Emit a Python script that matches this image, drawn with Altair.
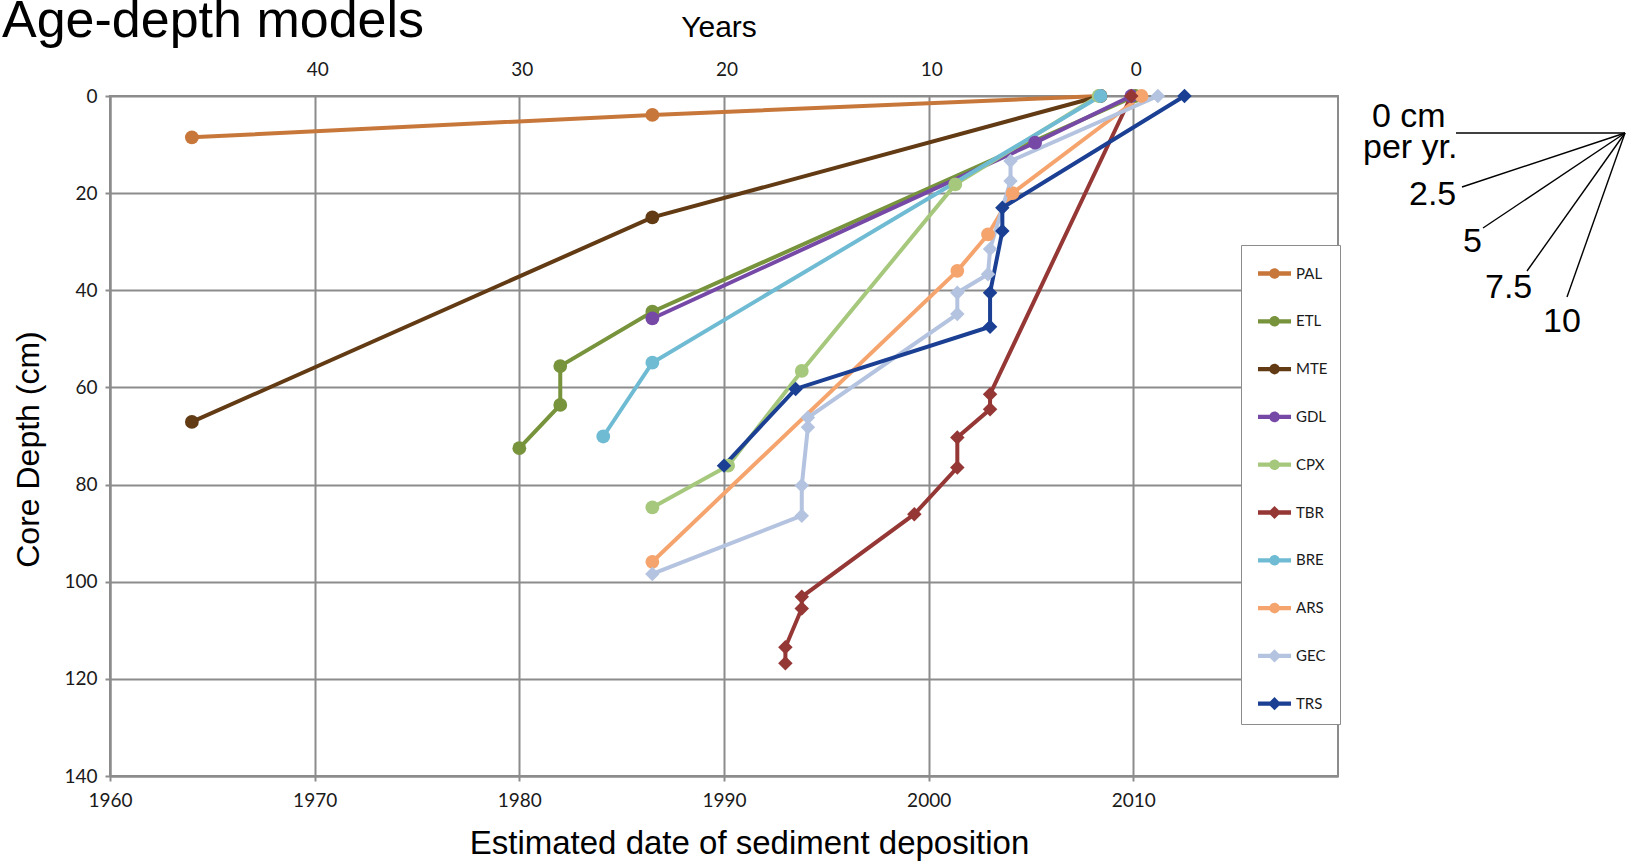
import altair as alt
import pandas as pd

# ---------------- data ----------------
series = ["PAL", "ETL", "MTE", "GDL", "CPX", "TBR", "BRE", "ARS", "GEC", "TRS"]
colors = ["#C8773A", "#77933C", "#623B14", "#7649A6", "#A6C87C",
          "#953735", "#6FBBD3", "#F5A46E", "#B4C3DF", "#1A3F93"]
diamond_series = ["TBR", "GEC", "TRS"]

pal_date = [2008.4, 1986.5, 1964.0]
pal_depth = [0, 3.9, 8.5]
etl_date = [2010.1, 1986.5, 1982.0, 1982.0, 1980.0]
etl_depth = [0, 44.4, 55.6, 63.6, 72.5]
mte_date = [2008.4, 1986.5, 1964.0]
mte_depth = [0, 25.0, 67.1]
gdl_date = [2009.9, 2005.2, 1986.5]
gdl_depth = [0, 9.6, 45.8]
cpx_date = [2008.3, 2001.3, 1993.8, 1990.2, 1986.5]
cpx_depth = [0, 18.2, 56.6, 76.1, 84.7]
tbr_date = [2009.9, 2003.0, 2003.0, 2001.4, 2001.4, 1999.3, 1993.8, 1993.8, 1993.0, 1993.0]
tbr_depth = [0, 61.4, 64.5, 70.3, 76.5, 86.1, 103.1, 105.5, 113.5, 116.8]
bre_date = [2008.4, 1986.5, 1984.1]
bre_depth = [0, 54.9, 70.1]
ars_date = [2010.4, 2004.1, 2002.9, 2001.4, 1986.5]
ars_depth = [0, 20.0, 28.5, 36.0, 95.9]
gec_date = [2011.2, 2004.0, 2004.0, 2003.0, 2002.9, 2001.4, 2001.4, 1994.1, 1994.1, 1993.8, 1993.8, 1986.5]
gec_depth = [0, 13.4, 17.5, 31.5, 36.7, 40.5, 44.9, 66.2, 68.2, 80.2, 86.4, 98.4]
trs_date = [2012.5, 2003.6, 2003.6, 2003.0, 2003.0, 1993.5, 1990.0]
trs_depth = [0, 23.0, 27.8, 40.5, 47.5, 60.3, 76.1]

x_ticks = [1960, 1970, 1980, 1990, 2000, 2010]
y_ticks = [0, 20, 40, 60, 80, 100, 120, 140]
years_ago = [40, 30, 20, 10, 0]
reference_year = 2010

rate_labels = ["2.5", "5", "7.5", "10"]

all_dates = [pal_date, etl_date, mte_date, gdl_date, cpx_date, tbr_date, bre_date, ars_date, gec_date, trs_date]
all_depths = [pal_depth, etl_depth, mte_depth, gdl_depth, cpx_depth, tbr_depth, bre_depth, ars_depth, gec_depth, trs_depth]

rows = []
for s, ds, zs in zip(series, all_dates, all_depths):
    for d, z in zip(ds, zs):
        rows.append({"series": s, "date": d, "depth": z})
df = pd.DataFrame(rows)

# ---------------- styling ----------------
GRID = "#8C8C8C"
W, H = 1228, 680
PAD = {"left": 110, "top": 96, "right": 289, "bottom": 87}
LBL_FONT = "Lato"
REG = "Liberation Sans"

x_scale = alt.Scale(domain=[1960, 2020], nice=False, zero=False)
y_scale = alt.Scale(domain=[0, 140], reverse=True, nice=False, zero=False)
color_scale = alt.Scale(domain=series, range=colors)

x_axis = alt.Axis(values=x_ticks, grid=True, gridColor=GRID, gridWidth=2,
                  domainColor=GRID, domainWidth=2, tickColor=GRID, tickWidth=2, tickSize=5,
                  labelFont=LBL_FONT, labelFontSize=19, labelColor="#1a1a1a", labelPadding=10,
                  labelFlush=False, format="d",
                  title="Estimated date of sediment deposition", titleFont=REG, titleFontSize=33,
                  titleFontWeight="normal", titleColor="black", titleX=639, titleY=77,
                  titleBaseline="alphabetic", titleAlign="center", titleAnchor="start")
y_axis = alt.Axis(values=y_ticks, grid=True, gridColor=GRID, gridWidth=2,
                  domainColor=GRID, domainWidth=2, tickColor=GRID, tickWidth=2, tickSize=5,
                  labelFont=LBL_FONT, labelFontSize=19, labelColor="#1a1a1a", labelPadding=8,
                  labelFlush=False,
                  title="Core Depth (cm)", titleFont=REG, titleFontSize=32,
                  titleFontWeight="normal", titleColor="black", titleX=-72, titleY=353,
                  titleAngle=270, titleBaseline="alphabetic", titleAlign="center", titleAnchor="start")

base = alt.Chart(df)
enc = dict(
    x=alt.X("date:Q", scale=x_scale, axis=x_axis),
    y=alt.Y("depth:Q", scale=y_scale, axis=y_axis),
    color=alt.Color("series:N", scale=color_scale, legend=None),
)

lines = base.mark_line(strokeWidth=4).encode(order=alt.Order("depth:Q"), **enc)

diamond_expr = "indexof([" + ",".join("'%s'" % s for s in diamond_series) + "], datum.series)"
pts_circle = base.transform_filter(diamond_expr + " < 0").mark_point(
    filled=True, opacity=1, size=190, shape="circle", strokeWidth=0).encode(**enc)
pts_diamond = base.transform_filter(diamond_expr + " >= 0").mark_point(
    filled=True, opacity=1, size=210, shape="diamond", strokeWidth=0).encode(**enc)

# top "Years" axis labels positioned through the shared x scale
top_df = pd.DataFrame({"ago": years_ago})
top_labels = alt.Chart(top_df).transform_calculate(
    date=f"{reference_year} - datum.ago"
).mark_text(font=LBL_FONT, fontSize=19, color="#1a1a1a", baseline="alphabetic", align="center", dx=3).encode(
    x=alt.X("date:Q", scale=x_scale, axis=x_axis),
    y=alt.value(-20),
    text=alt.Text("ago:Q"),
)

# legend carrier (line + marker symbols)
seg = "M-1,-0.13H-0.2V0.13H-1Z M0.2,-0.13H1V0.13H0.2Z "
circ = "M-0.32,0A0.32,0.32 0 1,1 0.32,0A0.32,0.32 0 1,1 -0.32,0Z"
diam = "M0,-0.4L0.4,0L0,0.4L-0.4,0Z"
legend_paths = [seg + (diam if s in diamond_series else circ) for s in series]
leg = alt.Legend(title=None, orient="none", legendX=1131, legendY=149, padding=12,
                 symbolOffset=5, symbolSize=1089, symbolStrokeWidth=0, labelOffset=5,
                 labelFont=LBL_FONT, labelFontSize=15, labelColor="#1a1a1a", rowPadding=22.8,
                 fillColor="white", strokeColor=GRID)
legend_df = pd.DataFrame({"key": series})
carrier = alt.Chart(legend_df).mark_point(filled=True, opacity=1, size=0, strokeWidth=0).encode(
    color=alt.Color("key:N", scale=alt.Scale(domain=series, range=colors), legend=leg),
    shape=alt.Shape("key:N", scale=alt.Scale(domain=series, range=legend_paths), legend=leg),
)

# ---------------- annotations ----------------
def text_layer(label, x, y, size, font, align="left"):
    return alt.Chart(pd.DataFrame({"t": [label]})).mark_text(
        font=font, fontSize=size, color="black", align=align, baseline="alphabetic"
    ).encode(x=alt.value(x), y=alt.value(y), text="t:N")

def rule_layer(x, y, x2, y2):
    return alt.Chart(pd.DataFrame({"t": [0]})).mark_rule(color="black", strokeWidth=1.4).encode(
        x=alt.value(x), y=alt.value(y), x2=alt.value(x2), y2=alt.value(y2))

annots = [
    text_layer("Age-depth models", -108, -59, 52, REG),
    text_layer("Years", 609, -59, 30, REG, align="center"),
    text_layer("0 cm", 1262, 31, 34, REG),
    text_layer("per yr.", 1253, 62, 34, REG),
]
rate_pos = [(1299, 109), (1353, 156), (1375, 202), (1433, 236)]
for lab, (tx, ty) in zip(rate_labels, rate_pos):
    annots.append(text_layer(lab, tx, ty, 34, REG))
anchor = (1515, 37)
for ex, ey in [(1346, 37), (1352, 91), (1373, 132), (1417, 175), (1457, 201)]:
    annots.append(rule_layer(anchor[0], anchor[1], ex, ey))

chart = alt.layer(lines, pts_circle, pts_diamond, top_labels, carrier, *annots).resolve_scale(
    color="independent", shape="independent"
).resolve_legend(color="independent", shape="independent").properties(
    width=W, height=H,
    autosize=alt.AutoSizeParams(type="none"),
    padding=PAD,
    background="white",
).configure_view(stroke=GRID, strokeWidth=2)

chart.save("out.html", embed_options={"renderer": "svg", "actions": False})
